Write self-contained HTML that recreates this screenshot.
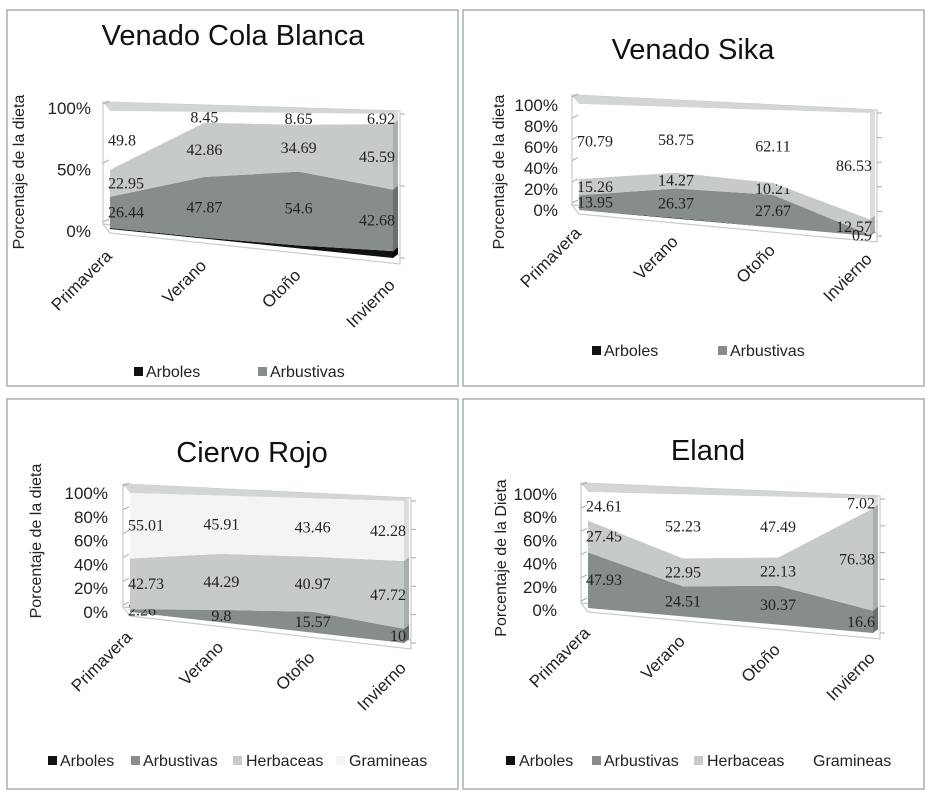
<!DOCTYPE html>
<html><head><meta charset="utf-8">
<style>
html,body{margin:0;padding:0;background:#fff;}
svg{display:block;font-family:"Liberation Sans",sans-serif;}
.val{font-family:"Liberation Serif",serif;font-size:16px;fill:#222;}
</style></head>
<body>
<svg id="fig" width="935" height="800" viewBox="0 0 935 800" xmlns="http://www.w3.org/2000/svg"></svg>
<script>
const categories = ["Primavera","Verano","Otoño","Invierno"];
const seriesNames = ["Arboles","Arbustivas","Herbaceas","Gramineas"];
// Venado Cola Blanca
const vcbArboles = [0.81, 0.82, 2.06, 4.81];
const vcbArbustivas = [26.44, 47.87, 54.6, 42.68];
const vcbHerbaceas = [22.95, 42.86, 34.69, 45.59];
const vcbGramineas = [49.8, 8.45, 8.65, 6.92];
const vcbTicks = ["0%","50%","100%"];
// Venado Sika
const sikaArboles = [0, 0.61, 0.01, 0];
const sikaArbustivas = [13.95, 26.37, 27.67, 0.9];
const sikaHerbaceas = [15.26, 14.27, 10.21, 12.57];
const sikaGramineas = [70.79, 58.75, 62.11, 86.53];
const sikaTicks = ["0%","20%","40%","60%","80%","100%"];
// Ciervo Rojo
const crArboles = [0, 0, 0, 0];
const crArbustivas = [2.26, 9.8, 15.57, 10];
const crHerbaceas = [42.73, 44.29, 40.97, 47.72];
const crGramineas = [55.01, 45.91, 43.46, 42.28];
const crTicks = ["0%","20%","40%","60%","80%","100%"];
// Eland
const elArboles = [0, 0, 0, 0];
const elArbustivas = [47.93, 24.51, 30.37, 16.6];
const elHerbaceas = [27.45, 22.95, 22.13, 76.38];
const elGramineas = [24.61, 52.23, 47.49, 7.02];
const elTicks = ["0%","20%","40%","60%","80%","100%"];

const NS="http://www.w3.org/2000/svg";
const svg=document.getElementById('fig');
function mk(tag,attrs,parent){const e=document.createElementNS(NS,tag);for(const k in attrs)e.setAttribute(k,attrs[k]);(parent||svg).appendChild(e);return e;}

function chart(cfg){
  const g=mk('g',{});
  
  
  const b=mk('rect',{x:cfg.box[0],y:cfg.box[1],width:cfg.box[2],height:cfg.box[3],fill:'#fff',stroke:'#a9b0b0','stroke-width':1.5},g);
  
  
  const n=categories.length;
  const xAt=i=>cfg.x0+(cfg.x1-cfg.x0)*i/(n-1);
  const baseAt=i=>cfg.bL+(cfg.bR-cfg.bL)*i/(n-1);
  const topAt=i=>cfg.tL+(cfg.tR-cfg.tL)*i/(n-1);
  const yAt=(i,v)=>baseAt(i)-v/100*(baseAt(i)-topAt(i));
  const d=cfg.depth;
  const wall=mk('polygon',{points:`${cfg.x0-d},${cfg.tL-d-2} ${cfg.x1+d},${cfg.tR-d+4} ${cfg.x1+d},${cfg.bR-d+4} ${cfg.x0-d},${cfg.bL-d+2}`,fill:'none',stroke:'#c9cccc','stroke-width':1.2},g);
  
  
  const tf=mk('polygon',{points:`${cfg.x0-d},${cfg.tL-d-2} ${cfg.x1+d},${cfg.tR-d+4} ${cfg.x1},${cfg.tR} ${cfg.x0},${cfg.tL}`,fill:'#d3d6d6'},g);
  
  
  const fl=mk('polygon',{points:`${cfg.x0-d},${cfg.bL-d+2} ${cfg.x1+d},${cfg.bR-d+4} ${cfg.x1+d},${cfg.bR+6} ${cfg.x0},${cfg.bL+4}`,fill:'none',stroke:'#c9cccc','stroke-width':1.2},g);
  
  
  cfg.ticks.forEach((t,k)=>{const v=k/(cfg.ticks.length-1)*100;const y=yAt(n-1,v);
    const l=mk('line',{x1:cfg.x1+d,y1:y,x2:cfg.x1+d+5,y2:y,stroke:'#aaa'},g);
    
    });
  cfg.ticks.forEach((t,k)=>{const v=k/(cfg.ticks.length-1)*100;const y=yAt(0,v);
    const l=mk('line',{x1:cfg.x0-d,y1:y-d,x2:cfg.x0-d+6,y2:y-d-3,stroke:'#aaa'},g);
    
    });
  const colors=['#111111','#878c8c','#c6caca',cfg.gramColor];
  const side=['#000','#6a6f6f','#a9aeae','#dcdede'];
  const cum=categories.map(()=>0);
  cfg.series.forEach((arr,s)=>{
    const lower=cum.slice();
    arr.forEach((v,i)=>cum[i]+=v);
    let pts=[];
    for(let i=0;i<n;i++)pts.push(`${xAt(i)},${yAt(i,cum[i])}`);
    for(let i=n-1;i>=0;i--)pts.push(`${xAt(i)},${yAt(i,lower[i])}`);
    const p=mk('polygon',{points:pts.join(' '),fill:colors[s]},g);
    
    
    const sf=mk('polygon',{points:`${xAt(n-1)},${yAt(n-1,cum[n-1])} ${xAt(n-1)+5},${yAt(n-1,cum[n-1])-4} ${xAt(n-1)+5},${yAt(n-1,lower[n-1])-4} ${xAt(n-1)},${yAt(n-1,lower[n-1])}`,fill:side[s]},g);
    
    
    if(s>0){arr.forEach((v,i)=>{
      const y=(yAt(i,cum[i])+yAt(i,lower[i]))/2+5;
      const anchor=i==0?'start':(i==n-1?'end':'middle');
      const t=mk('text',{x:xAt(i)+(i==0?-2:(i==n-1?2:0)),y:y,'text-anchor':anchor,class:'val'},g);
      t.textContent=String(v);
      
      
    });}
  });
  cfg.ticks.forEach((t,k)=>{const v=k/(cfg.ticks.length-1)*100;
    const y=cfg.yLabBase-(cfg.yLabBase-cfg.yLabTop)*v/100;
    const e=mk('text',{x:cfg.yLabX,y:y+6,'text-anchor':'end','font-size':17,fill:'#222'},g);
    e.textContent=t;
    
    });
  const yt=mk('text',{x:0,y:0,'text-anchor':'middle','font-size':16,fill:'#222',transform:`translate(${cfg.ytX},${cfg.ytY}) rotate(-90)`},g);
  yt.textContent=cfg.yTitle;
  
  
  categories.forEach((c,i)=>{const ex=xAt(i)+3, ey=baseAt(i)+cfg.catOff;
    const e=mk('text',{x:0,y:0,'text-anchor':'end','font-size':17,fill:'#222',transform:`translate(${ex},${ey}) rotate(-45)`},g);
    e.textContent=c;
    
    });
  const tt=mk('text',{x:cfg.titleX,y:cfg.titleY,'text-anchor':'middle','font-size':29,fill:'#111'},g);
  tt.textContent=cfg.title;
  
  
  cfg.legend.forEach((L,k)=>{
    if(L[2]){const r=mk('rect',{x:L[0],y:cfg.legY-10,width:9,height:9,fill:colors[k]},g);
      
      }
    const e=mk('text',{x:L[1],y:cfg.legY,'font-size':16,fill:'#222'},g);
    e.textContent=seriesNames[k];
    
    
  });
}

chart({name:'chart-venado-cola-blanca',box:[7,10,451,376],title:'Venado Cola Blanca',titleX:233,titleY:45,
  x0:110,x1:393,bL:229,bR:258,tL:111,tR:114,depth:7,ticks:vcbTicks,
  yLabX:91,yLabBase:231,yLabTop:108,ytX:24,ytY:172,yTitle:'Porcentaje de la dieta',catOff:28,
  series:[vcbArboles,vcbArbustivas,vcbHerbaceas,vcbGramineas],gramColor:'#ffffff',
  legY:377,legend:[[134,146,true],[258,270,true]]});
chart({name:'chart-venado-sika',box:[463,10,461,376],title:'Venado Sika',titleX:693,titleY:59,
  x0:579,x1:870,bL:210,bR:236,tL:104,tR:113,depth:7,ticks:sikaTicks,
  yLabX:558,yLabBase:210,yLabTop:105,ytX:504,ytY:172,yTitle:'Porcentaje de la dieta',catOff:24,
  series:[sikaArboles,sikaArbustivas,sikaHerbaceas,sikaGramineas],gramColor:'#ffffff',
  legY:356,legend:[[592,604,true],[718,730,true]]});
chart({name:'chart-ciervo-rojo',box:[7,399,451,390],title:'Ciervo Rojo',titleX:252,titleY:462,
  x0:130,x1:404,bL:612,bR:643,tL:493,tR:501,depth:7,ticks:crTicks,
  yLabX:108,yLabBase:612,yLabTop:493,ytX:41,ytY:541,yTitle:'Porcentaje de la dieta',catOff:26,
  series:[crArboles,crArbustivas,crHerbaceas,crGramineas],gramColor:'#f3f4f4',
  legY:766,legend:[[48,60,true],[131,143,true],[233,246,true],[336,349,true]]});
chart({name:'chart-eland',box:[463,399,461,390],title:'Eland',titleX:708,titleY:460,
  x0:588,x1:873,bL:608,bR:633,tL:492,tR:499,depth:7,ticks:elTicks,
  yLabX:557,yLabBase:610,yLabTop:494,ytX:506,ytY:558,yTitle:'Porcentaje de la Dieta',catOff:26,
  series:[elArboles,elArbustivas,elHerbaceas,elGramineas],gramColor:'#ffffff',
  legY:766,legend:[[506,519,true],[592,604,true],[694,707,true],[813,813,false]]});
</script>
</body></html>
